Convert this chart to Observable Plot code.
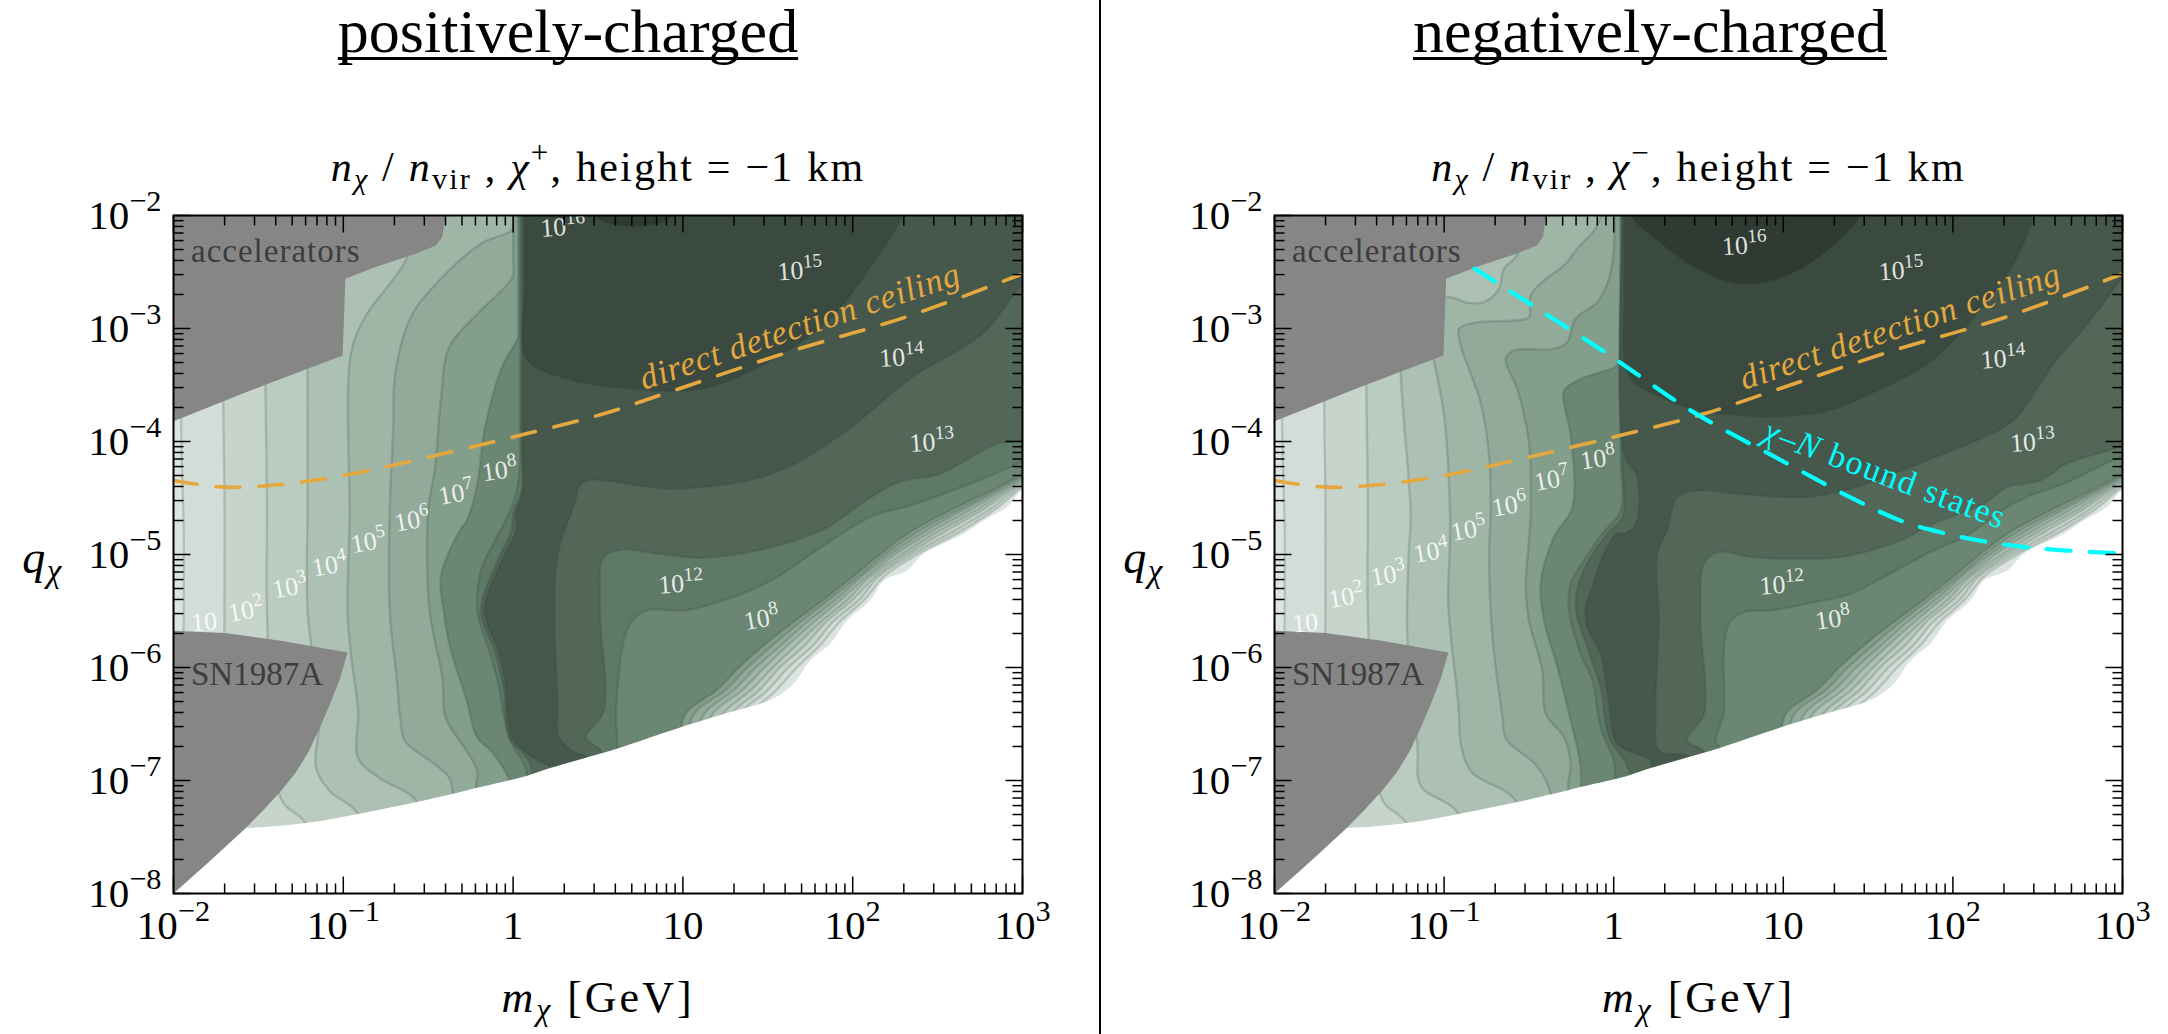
<!DOCTYPE html>
<html><head><meta charset="utf-8">
<script src="https://cdn.jsdelivr.net/npm/d3@7"></script>
<script src="https://cdn.jsdelivr.net/npm/@observablehq/plot@0.6"></script>
<style>
html,body{margin:0;padding:0;background:#fff;overflow:hidden}
#page{position:relative;width:2168px;height:1034px;font-family:"Liberation Serif",serif;color:#000}
#page svg{position:absolute;top:0;overflow:visible;background:transparent}
.ttl{position:absolute;top:0;font-size:62px;line-height:62px;white-space:nowrap;transform:translateX(-50%);
 text-decoration:underline;text-decoration-thickness:3px;text-underline-offset:5px;text-decoration-skip-ink:none}
#rule{position:absolute;left:1098.5px;top:0;width:2.5px;height:1034px;background:#000}
</style></head><body><div id="page"></div>
<script>
// All contour values are [log10 m (GeV), log10 q].
const titles = ["positively-charged", "negatively-charged"];
const subtitles = ["$n$_{χ} / $n$~{vir} , $χ$^{+}, height = −1 km", "$n$_{χ} / $n$~{vir} , $χ$^{−}, height = −1 km"];
const xTicks = [1e-2, 1e-1, 1, 10, 1e2, 1e3];
const xTickLabels = ["10^{−2}", "10^{−1}", "1", "10", "10^{2}", "10^{3}"];
const yTicks = [1e-8, 1e-7, 1e-6, 1e-5, 1e-4, 1e-3, 1e-2];
const yTickLabels = ["10^{−8}", "10^{−7}", "10^{−6}", "10^{−5}", "10^{−4}", "10^{−3}", "10^{−2}"];

const bandColors = ["#dce4df", "#d3ddd7", "#c6d4cb", "#bacbc0", "#adc0b4", "#9fb6a7", "#91aa9a", "#839e8b", "#6b8773"];
const colorA = "#5f7967", colorB = "#536759", colorC = "#46584c", colorD = "#3b4a40", colorE = "#2f3a32";

// low-density edge on the lower right
const fadeQ = [-6.6,-6.4,-6.2,-6.0,-5.8,-5.6,-5.4,-5.2,-5.0,-4.8,-4.6,-4.4,-4.2];
const fade1 = [1.30,1.40,1.55,1.67,1.81,1.92,2.07,2.18,2.38,2.63,2.84,3.00,3.19];
const fade2 = [1.26,1.34,1.50,1.62,1.77,1.88,2.04,2.15,2.35,2.59,2.81,2.98,3.18];
const fade3 = [1.21,1.29,1.45,1.57,1.72,1.84,2.00,2.13,2.32,2.54,2.77,2.96,3.17];
const fade4 = [1.17,1.24,1.40,1.53,1.67,1.81,1.97,2.10,2.29,2.50,2.74,2.94,3.16];
const fade5 = [1.12,1.18,1.35,1.48,1.62,1.77,1.93,2.08,2.25,2.46,2.70,2.92,3.15];
const fade6 = [1.08,1.13,1.30,1.43,1.58,1.73,1.90,2.05,2.22,2.42,2.66,2.90,3.14];
const fade7 = [1.03,1.07,1.25,1.38,1.53,1.69,1.86,2.03,2.19,2.38,2.63,2.88,3.13];
const fade8 = [0.985,1.02,1.20,1.33,1.48,1.65,1.83,2.00,2.16,2.34,2.59,2.86,3.12];
const fades = [fade1,fade2,fade3,fade4,fade5,fade6,fade7,fade8];

const domainEdge = [[-2.2,-7.42],[-1.574,-7.42],[-1.223,-7.376],[-0.913,-7.296],[-0.562,-7.189],[-0.355,-7.118],[-0.231,-7.07],[0.079,-6.96],[0.223,-6.888],[0.442,-6.793],[0.616,-6.716],[0.979,-6.533],[1.236,-6.414],[1.525,-6.281],[1.651,-6.144],[1.75,-5.938],[1.867,-5.79],[1.966,-5.584],[2.103,-5.407],[2.182,-5.23],[2.32,-5.142],[2.417,-4.994],[2.653,-4.817],[2.77,-4.70],[2.908,-4.58],[2.997,-4.434],[3.3,-4.3],[3.3,-8.3],[-2.2,-8.3]];

const acceleratorEdge = [[-2.1,-1.9],[-0.39,-1.9],[-0.397,-2.0],[-0.417,-2.19],[-0.454,-2.265],[-0.574,-2.339],[-0.815,-2.457],[-0.988,-2.56],[-1.004,-3.239],[-1.471,-3.504],[-2,-3.82],[-2.1,-3.9]];
const supernovaEdge = [[-2.1,-5.67],[-2,-5.675],[-1.698,-5.695],[-1.368,-5.763],[-0.975,-5.867],[-1.02,-6.1],[-1.079,-6.325],[-1.14,-6.54],[-1.202,-6.74],[-1.28,-6.93],[-1.368,-7.095],[-1.47,-7.26],[-1.574,-7.42],[-1.79,-7.72],[-2,-8.0],[-2.1,-8.1]];

const ceiling = [[-2,-4.345],[-1.7,-4.404],[-1.368,-4.38],[-0.996,-4.30],[-0.5,-4.139],[0.037,-3.947],[0.533,-3.755],[0.946,-3.549],[1.649,-3.195],[2.31,-2.9],[3,-2.516]];
const boundStates = [[-0.82,-2.47],[-0.052,-3.21],[0.47,-3.74],[0.99,-4.168],[1.39,-4.49],[1.691,-4.7],[1.926,-4.803],[2.18,-4.883],[2.427,-4.935],[2.673,-4.965],[2.95,-4.988]];

// shared far-left contours
const L1 = [[-1.955,-1.8],[-1.955,-3.9],[-1.94,-4.8],[-1.94,-5.6],[-1.94,-8.2]];
const L2 = [[-1.70,-1.8],[-1.707,-3.667],[-1.70,-4.5],[-1.70,-5.6],[-1.70,-8.2]];
const L3 = [[-1.46,-1.8],[-1.459,-3.504],[-1.45,-4.5],[-1.45,-5.5],[-1.42,-6.5],[-1.388,-7.065],[-1.347,-7.213],[-1.223,-7.376],[-1.1,-8.2]];

// positively charged panel
const posL4 = [[-1.21,-1.8],[-1.211,-3.342],[-1.21,-4.5],[-1.21,-5.5],[-1.14,-6.444],[-1.161,-6.888],[-1.079,-7.095],[-0.913,-7.296],[-0.8,-8.2]];
const posL5 = [[-0.55,-1.8],[-0.624,-2.369],[-0.872,-2.9],[-0.955,-3.224],[-0.963,-4.7],[-0.975,-5.5],[-0.955,-5.88],[-0.913,-6.385],[-0.913,-6.8],[-0.789,-6.976],[-0.562,-7.198],[-0.45,-8.2]];
const posL6 = [[0.0,-1.8],[0.008,-2.103],[-0.19,-2.25],[-0.417,-2.546],[-0.603,-2.9],[-0.694,-3.401],[-0.707,-3.932],[-0.727,-4.61],[-0.727,-5.497],[-0.686,-6.089],[-0.665,-6.444],[-0.636,-6.651],[-0.459,-6.858],[-0.376,-6.976],[-0.355,-7.124],[-0.3,-8.2]];
const posL7 = [[0.0,-1.8],[0.0,-2.4],[-0.004,-2.546],[-0.211,-2.87],[-0.376,-3.165],[-0.426,-3.637],[-0.459,-4.227],[-0.5,-4.61],[-0.492,-5.497],[-0.417,-6.089],[-0.397,-6.444],[-0.273,-6.74],[-0.211,-6.917],[-0.219,-7.065],[-0.2,-8.2]];
const posL8 = [[0.03,-1.8],[0.03,-3.0],[0.029,-3.077],[-0.066,-3.342],[-0.169,-3.903],[-0.211,-4.375],[-0.273,-4.7],[-0.314,-4.787],[-0.426,-5.201],[-0.409,-5.497],[-0.376,-5.793],[-0.273,-6.296],[-0.211,-6.621],[-0.128,-6.74],[-0.037,-6.947],[-0.025,-6.991],[0,-8.2]];
const posAleft = [[0.04,-1.8],[0.04,-3.6],[0.029,-4.375],[-0.025,-4.64],[-0.107,-4.876],[-0.19,-5.142],[-0.211,-5.497],[-0.128,-5.911],[-0.087,-6.148],[-0.025,-6.621],[0.079,-6.917],[0.1,-8.2]];
const posAright = [[0.616,-6.71],[0.607,-6.385],[0.678,-5.645],[0.781,-5.497],[1.029,-5.491],[1.483,-5.26],[1.814,-4.935],[2.103,-4.669],[2.351,-4.56],[2.682,-4.38],[2.971,-4.2],[3.3,-4.0]];
const posBleft = [[0.05,-1.8],[0.05,-4.08],[0.05,-4.434],[0.0,-4.64],[-0.01,-4.787],[-0.09,-5.053],[-0.19,-5.497],[-0.11,-5.852],[-0.06,-6.148],[-0.02,-6.621],[0.1,-6.85],[0.2,-8.2]];
const posBright = [[0.533,-6.769],[0.43,-6.621],[0.533,-6.385],[0.512,-5.497],[0.533,-5.024],[0.636,-4.959],[0.864,-4.994],[1.112,-5.03],[1.525,-4.935],[1.855,-4.757],[2.021,-4.581],[2.269,-4.36],[2.517,-4.286],[2.847,-4.021],[3,-3.991],[3.3,-3.9]];
const posC = [[0.058,-1.8],[0.058,-4.08],[0.058,-4.434],[0.017,-4.64],[0.017,-4.787],[-0.066,-5.053],[-0.169,-5.497],[-0.087,-5.852],[-0.045,-6.148],[-0.004,-6.621],[0.12,-6.799],[0.223,-6.888],[0.3,-7.2],[0.45,-7.0],[0.442,-6.799],[0.35,-6.74],[0.264,-6.6],[0.264,-6.385],[0.244,-5.497],[0.264,-4.994],[0.347,-4.61],[0.368,-4.522],[0.409,-4.36],[0.946,-4.419],[1.525,-4.286],[1.938,-3.932],[2.351,-3.431],[2.764,-3.047],[3.0,-2.605],[3.3,-2.2]];
const posD = [[0.07,-1.8],[0.07,-2.6],[0.079,-3.268],[0.285,-3.431],[0.698,-3.534],[1.112,-3.534],[1.483,-3.313],[1.855,-2.929],[2.103,-2.457],[2.289,-2.015],[2.33,-1.8]];
const posE = [[0.45,-1.8],[0.492,-2.015],[0.719,-2.097],[0.926,-2.015],[0.97,-1.8]];

// negatively charged panel
const negL4 = [[-1.27,-1.8],[-1.256,-3.386],[-1.197,-4.655],[-1.209,-5],[-1.217,-5.73],[-1.157,-6.69],[-1.137,-7.05],[-0.916,-7.293],[-0.8,-8.2]];
const negL5 = [[-0.5,-1.8],[-0.569,-2.348],[-0.647,-2.472],[-0.677,-2.649],[-0.765,-2.767],[-0.863,-2.773],[-0.987,-2.723],[-1.1,-2.9],[-1.07,-3.18],[-1.06,-3.283],[-1.0,-3.77],[-0.965,-4.655],[-0.968,-5],[-0.976,-5.427],[-0.916,-6.33],[-0.896,-6.72],[-0.835,-6.93],[-0.574,-7.188],[-0.45,-8.2]];
const negL6 = [[-0.05,-1.8],[-0.097,-2.088],[-0.215,-2.295],[-0.294,-2.442],[-0.411,-2.575],[-0.49,-2.708],[-0.5,-2.9],[-0.588,-2.929],[-0.824,-2.95],[-0.912,-3.003],[-0.902,-3.15],[-0.785,-3.652],[-0.735,-4.124],[-0.726,-4.655],[-0.735,-5],[-0.715,-5.728],[-0.655,-6.45],[-0.635,-6.631],[-0.454,-6.872],[-0.373,-7.11],[-0.3,-8.2]];
const negL7 = [[0.0,-1.8],[0.001,-2.295],[-0.028,-2.56],[-0.097,-2.767],[-0.225,-2.914],[-0.274,-3.121],[-0.352,-3.18],[-0.588,-3.195],[-0.637,-3.268],[-0.569,-3.534],[-0.5,-4.006],[-0.49,-4.655],[-0.519,-5.289],[-0.5,-5.584],[-0.421,-6.026],[-0.401,-6.41],[-0.293,-6.616],[-0.254,-6.852],[-0.27,-7.08],[-0.2,-8.2]];
const negL8 = [[0.03,-1.8],[0.03,-3.3],[-0.077,-3.386],[-0.195,-3.445],[-0.294,-3.549],[-0.294,-3.652],[-0.254,-3.947],[-0.244,-4.581],[-0.352,-4.846],[-0.431,-5.259],[-0.411,-5.584],[-0.332,-5.997],[-0.254,-6.469],[-0.195,-6.882],[-0.15,-8.2]];
const negAleft = [[0.04,-1.8],[0.04,-4.109],[0.04,-4.611],[-0.077,-4.832],[-0.175,-5.053],[-0.254,-5.259],[-0.264,-5.495],[-0.195,-5.879],[-0.126,-6.115],[-0.077,-6.528],[0.0,-6.823],[0.011,-6.985],[0.05,-8.2]];
const negAright = [[0.63,-6.72],[0.6,-6.646],[0.649,-6.41],[0.649,-5.879],[0.679,-5.613],[0.767,-5.51],[0.925,-5.495],[1.18,-5.422],[1.396,-5.348],[1.592,-5.2],[1.886,-4.965],[2.064,-4.847],[2.32,-4.581],[2.457,-4.478],[2.653,-4.374],[2.987,-4.139],[3.3,-4.0]];
const negBleft = [[0.05,-1.8],[0.05,-4.109],[0.05,-4.67],[-0.038,-4.817],[-0.136,-5.023],[-0.195,-5.2],[-0.225,-5.466],[-0.156,-5.82],[-0.077,-6.174],[-0.028,-6.616],[0.09,-6.911],[0.15,-8.2]];
const negBright = [[0.542,-6.764],[0.434,-6.646],[0.532,-6.41],[0.512,-5.584],[0.532,-5.082],[0.61,-4.979],[0.826,-5.024],[1.219,-5.038],[1.396,-5.009],[1.691,-4.876],[1.886,-4.726],[2.182,-4.55],[2.32,-4.404],[2.516,-4.345],[2.67,-4.197],[2.987,-4.05],[3.3,-3.9]];
const negC = [[0.058,-1.8],[0.06,-4.109],[0.139,-4.315],[0.129,-4.728],[0.06,-4.817],[0.021,-4.811],[-0.058,-4.994],[-0.126,-5.289],[-0.166,-5.466],[-0.156,-5.643],[-0.077,-5.879],[-0.028,-6.321],[0.021,-6.675],[0.217,-6.823],[0.227,-6.897],[0.3,-7.2],[0.46,-7.0],[0.453,-6.793],[0.267,-6.734],[0.247,-6.41],[0.267,-5.584],[0.257,-4.994],[0.315,-4.787],[0.375,-4.492],[0.512,-4.434],[0.728,-4.463],[1.12,-4.493],[1.396,-4.419],[1.946,-4.109],[2.182,-3.962],[2.358,-3.814],[2.6,-3.3],[2.8,-2.95],[3,-2.55],[3.3,-2.0]];
const negD = [[0.064,-1.8],[0.064,-2.6],[0.09,-3.416],[0.256,-3.593],[0.47,-3.711],[0.831,-3.779],[1.233,-3.74],[1.514,-3.578],[1.876,-3.283],[2.157,-2.841],[2.357,-2.428],[2.478,-2],[2.5,-1.8]];
const negE = [[0.06,-1.8],[0.1,-2.0],[0.309,-2.28],[0.51,-2.487],[0.751,-2.605],[0.992,-2.546],[1.233,-2.339],[1.454,-2.0],[1.5,-1.8]];

// [text, log10 m, log10 q, rotation]
const posLabels = [["10",-1.82,-5.6,-4],["10^{2}",-1.574,-5.497,-10],["10^{3}",-1.314,-5.29,-10],["10^{4}",-1.08,-5.098,-10],["10^{5}",-0.851,-4.89,-10],["10^{6}",-0.595,-4.698,-10],["10^{7}",-0.335,-4.463,-10],["10^{8}",-0.079,-4.257,-8],["10^{12}",0.988,-5.26,-4],["10^{8}",1.463,-5.571,-10],["10^{13}",2.467,-4.006,-4],["10^{14}",2.289,-3.254,-4],["10^{15}",1.69,-2.487,-4],["10^{16}",0.293,-2.103,-4]];
const negLabels = [["10",-1.819,-5.608,-4],["10^{2}",-1.578,-5.376,-10],["10^{3}",-1.329,-5.18,-10],["10^{4}",-1.076,-4.976,-10],["10^{5}",-0.855,-4.78,-10],["10^{6}",-0.614,-4.566,-10],["10^{7}",-0.365,-4.339,-10],["10^{8}",-0.092,-4.153,-8],["10^{12}",0.992,-5.268,-4],["10^{8}",1.293,-5.572,-8],["10^{13}",2.47,-4.006,-4],["10^{14}",2.297,-3.268,-4],["10^{15}",1.695,-2.487,-4],["10^{16}",0.771,-2.265,-4]];

const textSpacing = {"direct detection ceiling":1,"$χ–N$ bound states":1.5,"accelerators":1,"$m$_{χ} [GeV]":3,"$q$_{χ}":1.5,[subtitles[0]]:2.2,[subtitles[1]]:2.2};

const xMinor = d3.range(-2,3).flatMap(k => d3.range(2,10).map(f => f*10**k));
const yMinor = d3.range(-8,-2).flatMap(k => d3.range(2,10).map(f => f*10**k));
const tickShape = {draw(c,l){c.moveTo(0,0);c.lineTo(0,-l);}};

const px = d => 10**d[0], py = d => 10**d[1];
const px2 = d => 10**d[1], py2 = d => 10**d[2];
const fadePath = f => f.map((m,i)=>[m,fadeQ[i]]);
function band(left, right){
  return [...left, [right[0][0],-8.2], ...right, [3.3,-1.8]];
}
function polyLine(pts, fill){
  return Plot.line(pts,{x:px,y:py,fill,stroke:"#2f4036",strokeOpacity:0.2,strokeWidth:2.4,curve:"catmull-rom",clip:true});
}
function inner(anchor, rotate, values, length, width){
  return Plot[anchor==="top"||anchor==="bottom"?"vectorX":"vectorY"](values,{
    frameAnchor:anchor,rotate,length,anchor:"start",shape:tickShape,stroke:"#000",strokeWidth:width,strokeLinecap:"butt"});
}
function panel(o){
  const lefts=[L1,L2,L3,o.L4,o.L5,o.L6,o.L7,o.L8];
  const bands=lefts.map((l,i)=>polyLine(band(l,[...fadePath(fades[i]),[3.3,-4.1]]),bandColors[i+1]));
  return Plot.plot({
    width:o.width,height:1034,marginLeft:o.ml,marginRight:o.mr,marginTop:215,marginBottom:141,
    style:{fontFamily:"'Liberation Serif',serif",background:"transparent",overflow:"visible"},
    x:{type:"log",domain:[1e-2,1e3]},
    y:{type:"log",domain:[1e-8,1e-2]},
    marks:[
      Plot.rect([0],{x1:1e-2,x2:1e3,y1:1e-8,y2:1e-2,fill:bandColors[0]}),
      ...bands,
      polyLine(band(o.Al,o.Ar),colorA),
      polyLine(band(o.Bl,o.Br),colorB),
      polyLine([...o.C,[3.3,-1.8]],colorC),
      polyLine(o.D,colorD),
      polyLine(o.E,colorE),
      Plot.line(domainEdge,{x:px,y:py,fill:"#fff",curve:"catmull-rom",clip:true}),
      Plot.line(acceleratorEdge,{x:px,y:py,fill:"#868686",clip:true}),
      Plot.line(supernovaEdge,{x:px,y:py,fill:"#868686",clip:true}),
      Plot.line(ceiling,{x:px,y:py,stroke:"#e5a83f",strokeWidth:3.6,strokeDasharray:"24,19",curve:"catmull-rom",clip:true}),
      ...(o.bound?[Plot.line(boundStates,{x:px,y:py,stroke:"#00ffff",strokeWidth:4.2,strokeDasharray:"24,19",curve:"catmull-rom",clip:true}),
        Plot.text(["$χ–N$ bound states"],{x:10**1.6,y:10**-4.29,rotate:20.5,fill:"#00ffff",fontSize:34,textAnchor:"middle",lineAnchor:"middle"})]:[]),
      Plot.text(["direct detection ceiling"],{x:10**1.69,y:10**-2.98,rotate:-18.5,fill:"#e5a83f",fontSize:34,fontStyle:"italic",textAnchor:"middle",lineAnchor:"middle"}),
      Plot.text(["accelerators"],{x:10**-1.897,y:10**-2.32,fill:"#3d3d3d",fontSize:33,textAnchor:"start",lineAnchor:"middle"}),
      Plot.text(["SN1987A"],{x:10**-1.897,y:10**-6.06,fill:"#3d3d3d",fontSize:33,textAnchor:"start",lineAnchor:"middle"}),
      Plot.text(o.labels,{x:px2,y:py2,text:d=>d[0],rotate:d=>d[3],fill:"#fff",fillOpacity:0.86,fontSize:26,textAnchor:"middle",lineAnchor:"middle",clip:true}),
      inner("bottom",0,xMinor,10,1.5),inner("bottom",0,xTicks,17,1.5),
      inner("top",180,xMinor,10,1.5),inner("top",180,xTicks,17,1.5),
      inner("left",90,yMinor,10,1.5),inner("left",90,yTicks,17,1.5),
      inner("right",-90,yMinor,10,1.5),inner("right",-90,yTicks,17,1.5),
      Plot.frame({stroke:"#000",strokeWidth:2}),
      Plot.axisX(xTicks,{anchor:"bottom",tickSize:0,tickPadding:16,fontSize:41,label:null,tickFormat:d=>xTickLabels[xTicks.indexOf(d)]}),
      Plot.axisY(yTicks,{anchor:"left",tickSize:0,tickPadding:12,fontSize:41,label:null,tickFormat:d=>yTickLabels[yTicks.indexOf(d)]}),
      Plot.text([o.sub],{frameAnchor:"top",dy:-35,fontSize:42,textAnchor:"middle",lineAnchor:"bottom"}),
      Plot.text(["$m$_{χ} [GeV]"],{frameAnchor:"bottom",dy:118,fontSize:44,textAnchor:"middle",lineAnchor:"bottom"}),
      Plot.text(["$q$_{χ}"],{frameAnchor:"left",dx:-131,dy:4,fontSize:46,textAnchor:"middle",lineAnchor:"middle"})
    ]
  });
}

function rich(el){
  const s=el.textContent;
  if(textSpacing[s]) el.style.letterSpacing=textSpacing[s]+"px";
  if(!/[\^_~$]/.test(s)) return;
  const fs=parseFloat(getComputedStyle(el).fontSize);
  const re=/\^\{([^}]*)\}|_\{([^}]*)\}|~\{([^}]*)\}|\$([^$]*)\$|([^\^_~$]+)/g;
  el.textContent="";
  let shift=0,m;
  while((m=re.exec(s))){
    const t=document.createElementNS("http://www.w3.org/2000/svg","tspan");
    let target=0,size=fs,ital=false,txt;
    if(m[1]!==undefined){txt=m[1];target=-0.42*fs;size=0.74*fs;}
    else if(m[2]!==undefined){txt=m[2];target=0.2*fs;size=0.72*fs;ital=true;}
    else if(m[3]!==undefined){txt=m[3];target=0.2*fs;size=0.72*fs;}
    else if(m[4]!==undefined){txt=m[4];ital=true;}
    else txt=m[5];
    t.textContent=txt;
    t.setAttribute("font-size",size);
    if(ital)t.setAttribute("font-style","italic");
    if(target!==shift){t.setAttribute("dy",target-shift);shift=target;}
    el.appendChild(t);
  }
}

const page=document.getElementById("page");
const left=panel({width:1100,ml:173,mr:78,sub:subtitles[0],labels:posLabels,bound:false,L4:posL4,L5:posL5,L6:posL6,L7:posL7,L8:posL8,Al:posAleft,Ar:posAright,Bl:posBleft,Br:posBright,C:posC,D:posD,E:posE});
const right=panel({width:1068,ml:174,mr:46,sub:subtitles[1],labels:negLabels,bound:true,L4:negL4,L5:negL5,L6:negL6,L7:negL7,L8:negL8,Al:negAleft,Ar:negAright,Bl:negBleft,Br:negBright,C:negC,D:negD,E:negE});
left.style.left="0px"; right.style.left="1100px";
page.append(left,right);
page.querySelectorAll("svg text").forEach(rich);
[[titles[0],568],[titles[1],1650]].forEach(([t,x])=>{
  const d=document.createElement("div");d.className="ttl";d.style.left=x+"px";d.textContent=t;page.appendChild(d);
});
const r=document.createElement("div");r.id="rule";page.appendChild(r);
</script></body></html>
